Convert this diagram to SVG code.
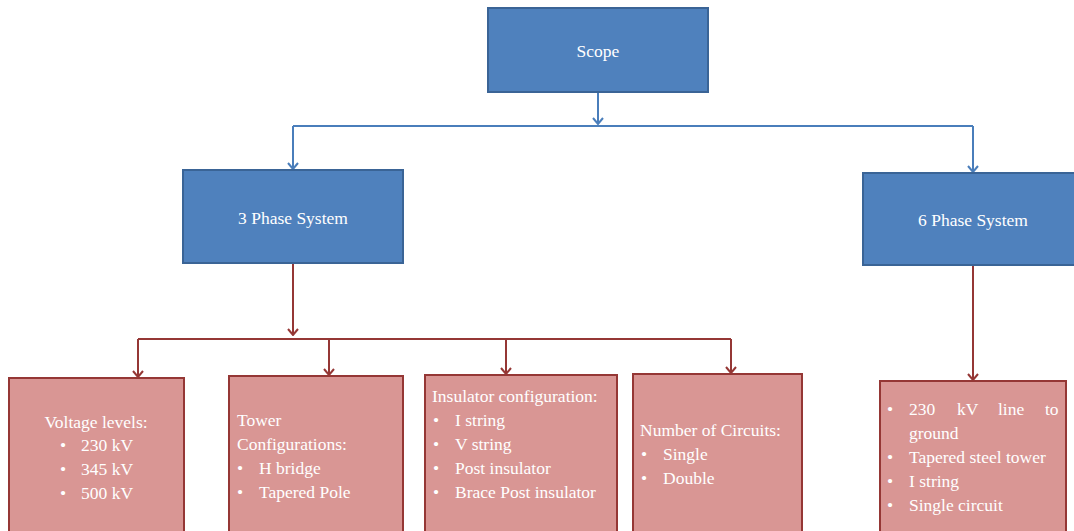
<svg xmlns="http://www.w3.org/2000/svg" width="1074" height="531" viewBox="0 0 1074 531">
<defs>
<style>
.blue{fill:#4F81BD;stroke:#3A6496;stroke-width:2}
.red{fill:#D99694;stroke:#953735;stroke-width:2}
.t{font-family:"Liberation Serif","Times New Roman",serif;font-size:17.5px;fill:#FFFFFF}
.c{text-anchor:middle}
.bl{stroke:#4A7EBB;stroke-width:2;fill:none}
.rd{stroke:#953735;stroke-width:2;fill:none}
</style>
<marker id="ab" viewBox="0 0 12 12" refX="11" refY="6" markerWidth="12" markerHeight="12" markerUnits="userSpaceOnUse" orient="auto">
<path d="M5,1 L11,6 L5,11" fill="none" stroke="#4A7EBB" stroke-width="2"/>
</marker>
<marker id="ar" viewBox="0 0 12 12" refX="11" refY="6" markerWidth="12" markerHeight="12" markerUnits="userSpaceOnUse" orient="auto">
<path d="M5,1 L11,6 L5,11" fill="none" stroke="#953735" stroke-width="2"/>
</marker>
</defs>
<g id="connectors">
<path class="bl" d="M598,93 V124" marker-end="url(#ab)"/>
<path class="bl" d="M293,126 H973"/>
<path class="bl" d="M293,126 V169" marker-end="url(#ab)"/>
<path class="bl" d="M973,126 V172" marker-end="url(#ab)"/>
<path class="rd" d="M293,264 V335" marker-end="url(#ar)"/>
<path class="rd" d="M138,339 H731"/>
<path class="rd" d="M138,339 V377" marker-end="url(#ar)"/>
<path class="rd" d="M329,339 V375" marker-end="url(#ar)"/>
<path class="rd" d="M506,339 V374" marker-end="url(#ar)"/>
<path class="rd" d="M731,339 V373" marker-end="url(#ar)"/>
<path class="rd" d="M973,266 V380" marker-end="url(#ar)"/>
</g>
<g id="scope">
<rect class="blue" x="488" y="8" width="220" height="84"/>
<text class="t c" x="598" y="57">Scope</text>
</g>
<g id="phase3">
<rect class="blue" x="183" y="170" width="220" height="93"/>
<text class="t c" x="293" y="224">3 Phase System</text>
</g>
<g id="phase6">
<rect class="blue" x="863" y="173" width="215" height="92"/>
<text class="t c" x="973" y="226">6 Phase System</text>
</g>
<g id="voltage">
<rect class="red" x="9" y="378" width="175" height="160"/>
<text class="t c" x="96" y="428">Voltage levels:</text>
<text class="t" x="60" y="451">•</text><text class="t" x="81" y="451">230 kV</text>
<text class="t" x="60" y="475">•</text><text class="t" x="81" y="475">345 kV</text>
<text class="t" x="60" y="499">•</text><text class="t" x="81" y="499">500 kV</text>
</g>
<g id="tower">
<rect class="red" x="229" y="376" width="174" height="162"/>
<text class="t" x="237" y="426">Tower</text>
<text class="t" x="237" y="450">Configurations:</text>
<text class="t" x="237" y="474">•</text><text class="t" x="259" y="474">H bridge</text>
<text class="t" x="237" y="498">•</text><text class="t" x="259" y="498">Tapered Pole</text>
</g>
<g id="insulator">
<rect class="red" x="425" y="375" width="192" height="163"/>
<text class="t" x="432" y="402">Insulator configuration:</text>
<text class="t" x="433" y="426">•</text><text class="t" x="455" y="426">I string</text>
<text class="t" x="433" y="450">•</text><text class="t" x="455" y="450">V string</text>
<text class="t" x="433" y="474">•</text><text class="t" x="455" y="474">Post insulator</text>
<text class="t" x="433" y="498">•</text><text class="t" x="455" y="498">Brace Post insulator</text>
</g>
<g id="circuits">
<rect class="red" x="633" y="374" width="169" height="164"/>
<text class="t" x="640" y="436">Number of Circuits:</text>
<text class="t" x="641" y="460">•</text><text class="t" x="663" y="460">Single</text>
<text class="t" x="641" y="484">•</text><text class="t" x="663" y="484">Double</text>
</g>
<g id="sixdetails">
<rect class="red" x="880" y="381" width="186" height="157"/>
<text class="t" x="887" y="415">•</text>
<text class="t" x="909" y="415">230</text><text class="t" x="957" y="415">kV</text><text class="t" x="998" y="415">line</text><text class="t" x="1045" y="415">to</text>
<text class="t" x="909" y="439">ground</text>
<text class="t" x="887" y="463">•</text><text class="t" x="909" y="463">Tapered steel tower</text>
<text class="t" x="887" y="487">•</text><text class="t" x="909" y="487">I string</text>
<text class="t" x="887" y="511">•</text><text class="t" x="909" y="511">Single circuit</text>
</g>
</svg>
